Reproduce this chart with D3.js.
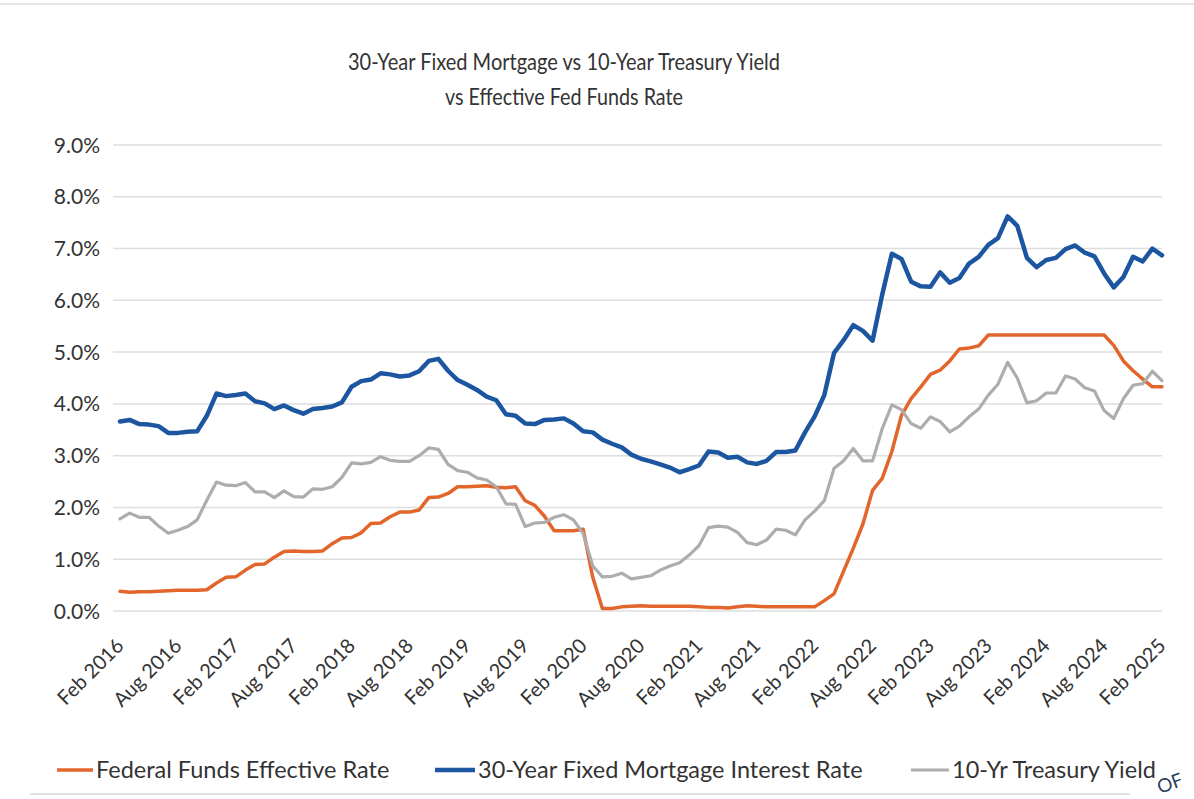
<!DOCTYPE html>
<html>
<head>
<meta charset="utf-8">
<script src="https://cdn.jsdelivr.net/npm/d3@7"></script>
<style>
  body { margin: 0; background: #fff; }
  svg { display: block; font-family: Lato, "Open Sans", sans-serif; }
</style>
</head>
<body>
<svg width="1194" height="799"></svg>
<script>
// monthly series, Feb 2016 .. Feb 2025 (percent)
var fedFunds = [
  0.38,0.36,0.37,0.37,0.38,0.39,0.40,0.40,0.40,0.41,0.54,
  0.65,0.66,0.79,0.90,0.91,1.04,1.15,1.16,1.15,1.15,1.16,1.30,
  1.41,1.42,1.51,1.69,1.70,1.82,1.91,1.91,1.95,2.19,2.20,2.27,
  2.40,2.40,2.41,2.42,2.39,2.38,2.40,2.13,2.04,1.83,1.55,1.55,
  1.55,1.58,0.65,0.05,0.05,0.08,0.09,0.10,0.09,0.09,0.09,0.09,
  0.09,0.08,0.07,0.07,0.06,0.08,0.10,0.09,0.08,0.08,0.08,0.08,
  0.08,0.08,0.20,0.33,0.77,1.21,1.68,2.33,2.56,3.08,3.78,4.10,
  4.33,4.57,4.65,4.83,5.06,5.08,5.12,5.33,5.33,5.33,5.33,5.33,
  5.33,5.33,5.33,5.33,5.33,5.33,5.33,5.33,5.13,4.83,4.64,4.48,
  4.33,4.33
];

var mortgage30 = [
  3.66,3.69,3.61,3.60,3.57,3.44,3.44,3.46,3.47,3.77,4.20,
  4.15,4.17,4.20,4.05,4.01,3.90,3.97,3.88,3.81,3.90,3.92,3.95,
  4.03,4.33,4.44,4.47,4.59,4.57,4.53,4.55,4.63,4.83,4.87,4.64,
  4.46,4.37,4.27,4.14,4.07,3.80,3.77,3.62,3.61,3.69,3.70,3.72,
  3.62,3.47,3.45,3.31,3.23,3.16,3.02,2.94,2.89,2.83,2.77,2.68,
  2.74,2.81,3.08,3.06,2.96,2.98,2.87,2.84,2.90,3.07,3.07,3.10,
  3.45,3.76,4.17,4.98,5.23,5.52,5.41,5.22,6.11,6.90,6.80,6.36,
  6.27,6.26,6.54,6.34,6.43,6.71,6.84,7.07,7.20,7.62,7.44,6.82,
  6.64,6.78,6.82,6.99,7.06,6.92,6.85,6.52,6.25,6.45,6.84,6.75,
  7.00,6.87
];

var treasury10 = [
  1.78,1.89,1.81,1.81,1.64,1.50,1.56,1.63,1.76,2.14,2.49,
  2.43,2.42,2.48,2.30,2.30,2.19,2.32,2.21,2.20,2.36,2.35,2.40,
  2.58,2.86,2.84,2.87,2.98,2.91,2.89,2.89,3.00,3.15,3.12,2.83,
  2.71,2.68,2.57,2.53,2.40,2.07,2.06,1.63,1.70,1.71,1.81,1.86,
  1.76,1.50,0.87,0.66,0.67,0.73,0.62,0.65,0.68,0.79,0.87,0.93,
  1.08,1.26,1.61,1.64,1.62,1.52,1.32,1.28,1.37,1.58,1.56,1.47,
  1.76,1.93,2.13,2.75,2.90,3.14,2.90,2.90,3.52,3.98,3.89,3.62,
  3.53,3.75,3.66,3.46,3.57,3.75,3.90,4.17,4.38,4.80,4.50,4.02,
  4.06,4.21,4.21,4.54,4.48,4.31,4.25,3.87,3.72,4.10,4.36,4.39,
  4.63,4.45
];

var tickLabels = ['Feb 2016','Aug 2016','Feb 2017','Aug 2017','Feb 2018','Aug 2018',
  'Feb 2019','Aug 2019','Feb 2020','Aug 2020','Feb 2021','Aug 2021','Feb 2022',
  'Aug 2022','Feb 2023','Aug 2023','Feb 2024','Aug 2024','Feb 2025'];
var yTicks = [0,1,2,3,4,5,6,7,8,9];

var titleLines = ['30-Year Fixed Mortgage vs 10-Year Treasury Yield', 'vs Effective Fed Funds Rate'];
var seriesNames = ['Federal Funds Effective Rate','30-Year Fixed Mortgage Interest Rate','10-Yr Treasury Yield'];
var seriesColors = ['#e2652c','#1d56a0','#adadad'];

var fmtKey = d3.timeFormat('%Y-%m'),
    parseLabel = d3.timeParse('%b %Y');

// one category per month
var months = d3.timeMonth.range(new Date(2016, 1, 1), new Date(2025, 2, 1)).map(fmtKey);

var svg = d3.select('svg'),
    textColor = '#333';

var x = d3.scalePoint().domain(months).range([120, 1162]),
    y = d3.scaleLinear().domain([0, 9]).range([611, 145]);

// scan edges
svg.append('line').attr('x1', 0).attr('x2', 1194).attr('y1', 4).attr('y2', 4)
    .attr('stroke', '#e4e4e4').attr('stroke-width', 2);
svg.append('line').attr('x1', 30).attr('x2', 1130).attr('y1', 794).attr('y2', 794)
    .attr('stroke', '#e2e2e2').attr('stroke-width', 2);

// title (squeezed a bit, the original font is narrower)
var titleW = [432, 238];
svg.append('g').selectAll('text')
  .data(titleLines)
  .enter()
  .append('text')
  .attr('x', 564)
  .attr('y', function(d, i) { return 70 + i * 35; })
  .attr('text-anchor', 'middle')
  .attr('fill', textColor)
  .attr('textLength', function(d, i) { return titleW[i]; })
  .attr('lengthAdjust', 'spacingAndGlyphs')
  .style('font-size', '23px')
  .text(function(d) { return d; });

// gridlines + y labels
svg.append('g').selectAll('line')
  .data(yTicks)
  .enter()
  .append('line')
  .attr('x1', 113)
  .attr('x2', 1162)
  .attr('y1', function(d) { return y(d); })
  .attr('y2', function(d) { return y(d); })
  .attr('stroke', '#dedede')
  .attr('stroke-width', 1.5);

svg.append('g').selectAll('text')
  .data(yTicks)
  .enter()
  .append('text')
  .attr('x', 100)
  .attr('y', function(d) { return y(d); })
  .attr('dy', '0.36em')
  .attr('text-anchor', 'end')
  .attr('fill', textColor)
  .style('font-size', '21px')
  .text(function(d) { return d.toFixed(1) + '%'; });

// x labels, rotated
svg.append('g').selectAll('text')
  .data(tickLabels)
  .enter()
  .append('text')
  .attr('text-anchor', 'end')
  .attr('fill', textColor)
  .style('font-size', '20px')
  .attr('transform', function(d) {
    var px = x(fmtKey(parseLabel(d)));
    return 'translate(' + (px + 5) + ',647) rotate(-45)';
  })
  .text(function(d) { return d; });

// lines
var line = d3.line()
    .x(function(d, i) { return x(months[i]); })
    .y(function(d) { return y(d); });

var allSeries = [fedFunds, mortgage30, treasury10],
    widths = [3.5, 4.5, 3.2];

svg.append('g').selectAll('path')
  .data(allSeries)
  .enter()
  .append('path')
  .attr('d', function(d) { return line(d); })
  .attr('fill', 'none')
  .attr('stroke', function(d, i) { return seriesColors[i]; })
  .attr('stroke-width', function(d, i) { return widths[i]; })
  .attr('stroke-linejoin', 'round')
  .attr('stroke-linecap', 'round');

// legend
var legendX = [57, 435, 911],
    swatchW = [36, 40, 38];

var leg = svg.append('g').selectAll('g')
  .data(seriesNames)
  .enter()
  .append('g')
  .attr('transform', function(d, i) { return 'translate(' + legendX[i] + ',770)'; });

leg.append('line')
  .attr('x1', 0)
  .attr('x2', function(d, i) { return swatchW[i]; })
  .attr('stroke', function(d, i) { return seriesColors[i]; })
  .attr('stroke-width', function(d, i) { return widths[i]; });

leg.append('text')
  .attr('x', function(d, i) { return swatchW[i] + 3; })
  .attr('dy', '0.36em')
  .attr('fill', textColor)
  .style('font-size', '23.5px')
  .text(function(d) { return d; });

// stamp fragment in the corner
svg.append('text')
  .attr('transform', 'translate(1160,794) rotate(-20)')
  .attr('fill', '#2b3f5c')
  .style('font-size', '19px')
  .text('OF');
</script>
</body>
</html>
